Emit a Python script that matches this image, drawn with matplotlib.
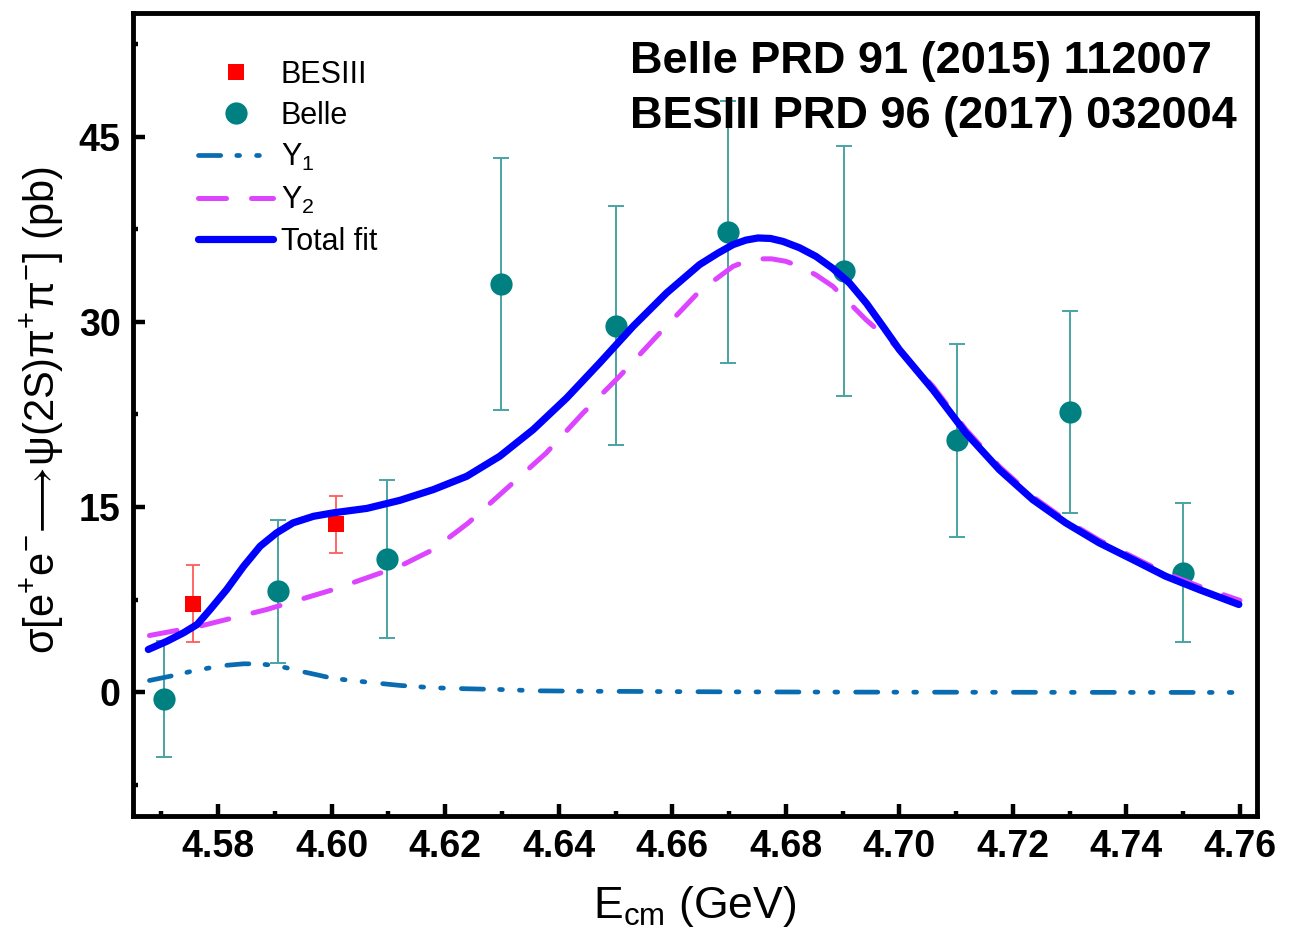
import matplotlib
matplotlib.use('Agg')
import matplotlib.pyplot as plt
from matplotlib.ticker import MultipleLocator

plt.rcParams['font.family'] = ['Liberation Sans', 'DejaVu Sans']
plt.rcParams['mathtext.fontset'] = 'custom'
plt.rcParams['mathtext.rm'] = 'Liberation Sans'
plt.rcParams['mathtext.it'] = 'Liberation Sans:italic'
plt.rcParams['mathtext.bf'] = 'Liberation Sans:bold'

# Belle data points
belle_x = [4.5705, 4.5906, 4.6098, 4.6298, 4.65, 4.6699, 4.6903, 4.7102, 4.7301, 4.75]
belle_y = [-0.5, 8.2, 10.8, 33.1, 29.7, 37.3, 34.1, 20.4, 22.7, 9.7]
belle_err = [4.7, 5.8, 6.4, 10.2, 9.7, 10.6, 10.1, 7.8, 8.2, 5.6]

# BESIII data points
bes_x = [4.5755, 4.6007]
bes_y = [7.2, 13.6]
bes_err = [3.1, 2.3]

# Y1 component
y1_x = [4.5679, 4.5716, 4.5750, 4.5786, 4.5815, 4.5845, 4.5870, 4.5897, 4.5920,
        4.5944, 4.5975, 4.6003, 4.6062, 4.6120, 4.6179, 4.6238, 4.6296, 4.6367,
        4.645, 4.655, 4.67, 4.69, 4.71, 4.73, 4.76]
y1_y = [0.97, 1.32, 1.68, 2.00, 2.20, 2.32, 2.31, 2.21, 2.00,
        1.73, 1.42, 1.13, 0.84, 0.57, 0.38, 0.30, 0.24, 0.13,
        0.10, 0.08, 0.05, 0.03, 0.02, 0.01, 0.0]

# Y2 component
y2_x = [4.5679, 4.5768, 4.5886, 4.6003, 4.6120, 4.6179, 4.6240, 4.6308, 4.6378,
        4.6443, 4.6507, 4.6578, 4.6648, 4.6707, 4.6730, 4.6751, 4.6775, 4.6800,
        4.6824, 4.6853, 4.6883, 4.6941, 4.6988, 4.7059, 4.7117, 4.7176, 4.7235,
        4.7293, 4.7352, 4.7411, 4.7469, 4.7528, 4.7600]
y2_y = [4.61, 5.37, 6.72, 8.33, 10.22, 11.57, 13.7, 16.5, 19.39,
        22.63, 25.59, 29.10, 32.48, 34.49, 34.9, 35.1, 35.1, 34.9,
        34.49, 33.8, 32.87, 30.18, 28.29, 24.8, 21.3, 18.3, 15.85,
        13.95, 12.33, 10.98, 9.65, 8.6, 7.45]

# Total fit
tot_x = [4.5677, 4.5710, 4.5739, 4.5763, 4.5786, 4.5815, 4.5845, 4.5874, 4.5903,
         4.5932, 4.5968, 4.6003, 4.6062, 4.6120, 4.6179, 4.6238, 4.6296, 4.6355,
         4.6414, 4.6472, 4.6531, 4.6590, 4.6648, 4.6680, 4.6707, 4.6730, 4.6751,
         4.6773, 4.6795, 4.6824, 4.6853, 4.6882, 4.6912, 4.6942, 4.6971, 4.7000,
         4.7059, 4.7117, 4.7176, 4.7235, 4.7293, 4.7352, 4.7411, 4.7469, 4.7528,
         4.7598]
tot_y = [3.48, 4.15, 4.83, 5.50, 6.72, 8.33, 10.22, 11.84, 12.92,
         13.73, 14.26, 14.54, 14.9, 15.55, 16.42, 17.50, 19.12, 21.28,
         23.84, 26.67, 29.64, 32.34, 34.63, 35.55, 36.25, 36.62, 36.79,
         36.75, 36.51, 36.0, 35.30, 34.35, 33.15, 31.5, 29.64, 27.75,
         24.51, 21.01, 18.04, 15.61, 13.73, 12.11, 10.76, 9.41, 8.33,
         7.12]

fig = plt.figure(figsize=(12.97, 9.46), dpi=100)
ax = fig.add_axes([133/1297, 130/946, 1124/1297, 803/946])

# error bars
ax.errorbar(belle_x, belle_y, yerr=belle_err, fmt='none', ecolor='#4aa3a3',
            elinewidth=1.4, capsize=5.5, capthick=1.4, zorder=2)
ax.errorbar(bes_x, bes_y, yerr=bes_err, fmt='none', ecolor='#ff5a5a',
            elinewidth=1.3, capsize=5, capthick=1.3, zorder=2)

# markers
ax.plot(bes_x, bes_y, 's', color='#ff0000', ms=12, mew=0, label='BESIII', zorder=3)
ax.plot(belle_x, belle_y, 'o', color='#008080', ms=16, mew=0, label='Belle', zorder=3)

# fit curves
ax.plot(y1_x, y1_y, color='#0a6cb0', lw=3.4, dashes=(4.7, 3.4, 0.6, 3.6, 0.6, 3.8),
        dash_capstyle='round', label='Y$_1$', zorder=4)
ax.plot(y2_x, y2_y, color='#dd44ff', lw=3.6, dashes=(5.6, 5.0),
        dash_capstyle='round', label='Y$_2$', zorder=4)
ax.plot(tot_x, tot_y, color='#0000ff', lw=5.2, solid_capstyle='round',
        solid_joinstyle='round', label='Total fit', zorder=5)

ax.set_xlim(4.565, 4.763)
ax.set_ylim(-10, 55)
ax.xaxis.set_major_locator(MultipleLocator(0.02))
ax.xaxis.set_minor_locator(MultipleLocator(0.01))
ax.yaxis.set_major_locator(MultipleLocator(15))
ax.yaxis.set_minor_locator(MultipleLocator(7.5))
ax.xaxis.set_major_formatter(plt.FormatStrFormatter('%.2f'))

for sp in ax.spines.values():
    sp.set_linewidth(3.5)
ax.tick_params(which='both', direction='in', top=False, right=False, width=3.2)
ax.tick_params(which='major', length=8.5, labelsize=27, pad=9)
ax.tick_params(which='minor', length=3.6)
for lab in ax.get_xticklabels() + ax.get_yticklabels():
    lab.set_fontweight('bold')

ax.set_xlabel('E$_{\\mathrm{cm}}$ (GeV)', fontsize=32)
ax.set_ylabel('σ[e$^{+}$e$^{-}\\!\\longrightarrow\\!$ψ(2S)π$^{+}$π$^{-}$] (pb)', fontsize=30)
ax.xaxis.set_label_coords(0.5, -0.085)
ax.yaxis.set_label_coords(-0.06, 0.505)

leg = ax.legend(loc='upper left', bbox_to_anchor=(0.058, 0.942), frameon=False,
                fontsize=22, handlelength=2.45, handletextpad=0.25,
                labelspacing=0.37, borderpad=0, borderaxespad=0, numpoints=1)

fig.text(630/1297, 1 - 61/946, 'Belle PRD 91 (2015) 112007', fontsize=32.5,
         fontweight='bold', va='center', ha='left', zorder=10)
fig.text(630/1297, 1 - 116/946, 'BESIII PRD 96 (2017) 032004', fontsize=32.5,
         fontweight='bold', va='center', ha='left', zorder=10)

fig.savefig('out.png', dpi=100)
